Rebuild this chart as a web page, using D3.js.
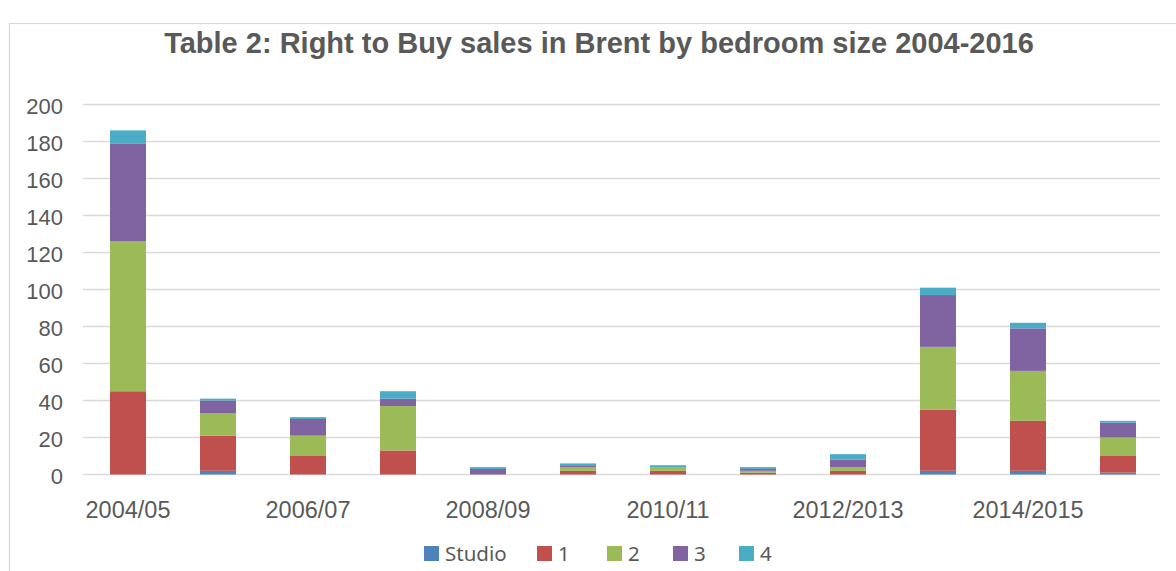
<!DOCTYPE html>
<html>
<head>
<meta charset="utf-8">
<script src="https://cdn.jsdelivr.net/npm/d3@7"></script>
<style>
  body { margin: 0; background: #fff; }
  svg { display: block; }
</style>
</head>
<body>
<svg id="chart"></svg>
<script>
// categories and series
const years = ['2004/05', '2005/06', '2006/07', '2007/08', '2008/09', '2009/10',
               '2010/11', '2011/12', '2012/2013', '2013/2014', '2014/2015', '2015/2016'];
const studio = [0, 2, 0, 0, 0, 0, 0, 0, 0, 2, 2, 1];
const bed1   = [45, 19, 10, 13, 0, 2, 2, 1, 2, 33, 27, 9];
const bed2   = [81, 12, 11, 24, 0, 2, 2, 1, 2, 34, 27, 10];
const bed3   = [53, 7, 9, 4, 3, 1, 0, 1, 4, 28, 23, 8];
const bed4   = [7, 1, 1, 4, 1, 1, 1, 1, 3, 4, 3, 1];
const seriesNames = ['Studio', '1', '2', '3', '4'];
const yTicks = [0, 20, 40, 60, 80, 100, 120, 140, 160, 180, 200];
const xLabels = ['2004/05', '2006/07', '2008/09', '2010/11', '2012/2013', '2014/2015'];

const colors = ['#4f81bd', '#c0504d', '#9bbb59', '#8064a2', '#4bacc6'];
const W = 1176, H = 571;

const svg = d3.select('#chart').attr('width', W).attr('height', H);

// outer frame
svg.append('rect')
    .attr('x', 9.5).attr('y', 23.5)
    .attr('width', W + 10).attr('height', H + 10)
    .attr('fill', 'none').attr('stroke', '#d9d9d9').attr('stroke-width', 1.2);

svg.append('text')
    .attr('x', 599).attr('y', 53)
    .attr('text-anchor', 'middle')
    .attr('font-family', 'Liberation Sans, Arial, sans-serif')
    .attr('font-weight', 'bold')
    .attr('font-size', 29)
    .attr('fill', '#595959')
    .text('Table 2: Right to Buy sales in Brent by bedroom size 2004-2016');

// table for the stack
const rows = years.map((y, i) => ({
    year: y, Studio: studio[i], '1': bed1[i], '2': bed2[i], '3': bed3[i], '4': bed4[i]
}));
const stacked = d3.stack().keys(seriesNames)(rows);

const x = d3.scaleBand().domain(years).range([83, 1163]).paddingInner(0.6).paddingOuter(0.3);
const y = d3.scaleLinear().domain([0, 200]).range([474.5, 104.5]);

// gridlines
svg.append('g').selectAll('line')
    .data(yTicks)
    .join('line')
    .attr('x1', 83).attr('x2', 1160)
    .attr('y1', d => y(d)).attr('y2', d => y(d))
    .attr('stroke', '#d9d9d9').attr('stroke-width', 1.6);

// y tick labels
svg.append('g').selectAll('text')
    .data(yTicks)
    .join('text')
    .attr('x', 63).attr('y', d => y(d) + 9)
    .attr('text-anchor', 'end')
    .attr('font-family', 'Liberation Sans, Arial, sans-serif')
    .attr('font-size', 22)
    .attr('fill', '#595959')
    .text(d => d);

// bars
svg.append('g').selectAll('g')
    .data(stacked)
    .join('g')
    .attr('fill', (d, i) => colors[i])
    .selectAll('rect')
    .data(d => d)
    .join('rect')
    .attr('x', d => x(d.data.year))
    .attr('width', x.bandwidth())
    .attr('y', d => y(d[1]))
    .attr('height', d => y(d[0]) - y(d[1]));

// x labels, every other year
svg.append('g').selectAll('text')
    .data(xLabels)
    .join('text')
    .attr('x', d => x(d) + x.bandwidth() / 2)
    .attr('y', 518)
    .attr('text-anchor', 'middle')
    .attr('font-family', 'Liberation Sans, Arial, sans-serif')
    .attr('font-size', 23.5)
    .attr('fill', '#595959')
    .text(d => d);

// legend
const legendX = [424, 537, 607, 673, 739];
const legend = svg.append('g').selectAll('g')
    .data(seriesNames)
    .join('g')
    .attr('transform', (d, i) => `translate(${legendX[i]},546)`);
legend.append('rect')
    .attr('width', 15).attr('height', 15)
    .attr('fill', (d, i) => colors[i]);
legend.append('text')
    .attr('x', 21).attr('y', 14.5)
    .attr('font-family', 'Noto Sans, sans-serif')
    .attr('font-size', 20.5)
    .attr('fill', '#595959')
    .text(d => d);
</script>
</body>
</html>
